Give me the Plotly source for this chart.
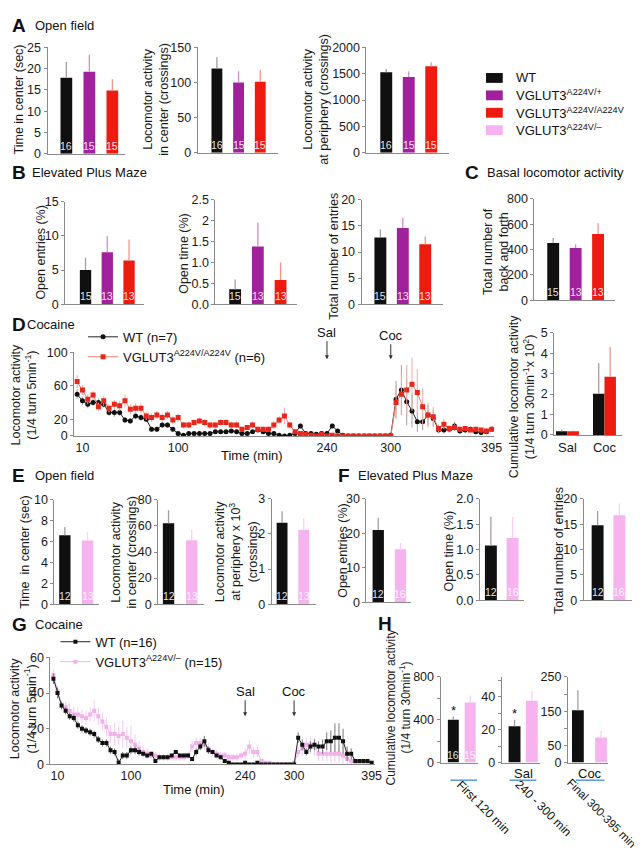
import plotly.graph_objects as go

W, H = 642, 852
FONT = "Liberation Sans, Arial, sans-serif"

BLACK = "#101010"
PURPLE = "#a1209b"
RED = "#ee1b10"
PINK = "#f6b3ef"
ERRC = {BLACK: "#a89ca4", PURPLE: "#d58bd0", RED: "#f3958c", PINK: "#f9cff5"}
AXIS = "#8a8a8a"

# ---------- data ----------
geno3 = ["WT", "A224V/+", "A224V/A224V"]
geno2 = ["WT", "A224V/-"]

# A open field
a_center_time = [17.9, 19.3, 14.9]
a_center_time_err = [3.7, 3.9, 2.6]
a_center_loco = [120, 100, 101]
a_center_loco_err = [16, 16, 17]
a_periph_loco = [1530, 1440, 1645]
a_periph_loco_err = [60, 110, 75]
a_n = ["16", "15", "15"]

# B elevated plus maze
b_open_entries = [5.0, 7.6, 6.4]
b_open_entries_err = [1.8, 2.4, 3.1]
b_open_time = [0.36, 1.38, 0.58]
b_open_time_err = [0.23, 0.57, 0.42]
b_total_entries = [12.8, 14.6, 11.5]
b_total_entries_err = [1.5, 2.0, 1.5]
b_n = ["15", "13", "13"]

# C basal locomotor activity
c_back_forth = [452, 412, 523]
c_back_forth_err = [40, 30, 85]
c_n = ["15", "13", "13"]

# D cocaine time course, 5-min bins
t_min = list(range(5, 400, 5))
d_wt = [50, 42, 38, 40, 40, 38, 28, 28, 28, 19,      # 5-50
        18, 24, 22, 20, 8, 8, 13, 13, 8, 3,          # 55-100
        1, 3, 3, 3, 3, 3, 5, 5, 5, 6,                # 105-150
        5, 3, 3, 5, 7, 5, 3, 3, 1, 0,                # 155-200
        1, 3, 12, 3, 3, 2, 3, 3, 12, 6,              # 205-250
        1, 0, 0, 0, 0, 0, 0, 0, 0, 1,                # 255-300
        44, 55, 41, 30, 17, 17, 25, 21, 7, 7,        # 305-350
        8, 12, 6, 7, 8, 5, 4, 5, 8]                  # 355-395
d_wt_err = [6, 5, 5, 4, 5, 4, 4, 5, 4, 4,
            3, 4, 4, 3, 3, 3, 3, 3, 2, 2,
            1, 2, 2, 2, 2, 2, 2, 2, 2, 2,
            2, 2, 2, 2, 2, 2, 2, 3, 1, 1,
            2, 2, 3, 2, 2, 2, 2, 2, 3, 2,
            1, 1, 1, 1, 1, 1, 1, 1, 1, 2,
            22, 30, 28, 20, 12, 10, 12, 10, 4, 4,
            4, 5, 3, 3, 3, 3, 2, 2, 3]
d_mut = [65, 55, 44, 49, 35, 42, 33, 38, 36, 42,
         32, 33, 33, 24, 22, 25, 22, 25, 19, 22,
         13, 13, 16, 18, 16, 13, 13, 16, 16, 13,
         13, 8, 10, 13, 8, 8, 8, 13, 19, 24,
         13, 5, 3, 2, 1, 0, 2, 0, 1, 0,
         0, 0, 0, 0, 0, 0, 0, 0, 0, 0,
         40, 50, 55, 62, 52, 35, 25, 23, 9, 14,
         9, 10, 8, 9, 7, 8, 7, 6, 8]
d_mut_err = [8, 6, 6, 5, 5, 6, 5, 5, 6, 8,
             6, 6, 6, 5, 5, 5, 5, 5, 5, 5,
             4, 4, 4, 4, 4, 4, 4, 4, 4, 4,
             4, 3, 3, 4, 3, 3, 3, 5, 5, 10,
             4, 2, 1, 1, 1, 1, 1, 1, 1, 1,
             1, 1, 1, 1, 1, 1, 1, 1, 1, 1,
             20, 25, 30, 32, 28, 22, 15, 12, 5, 6,
             4, 4, 3, 3, 3, 3, 3, 3, 3]
d_ticks = [10, 100, 240, 300, 395]

# D cumulative (x 10^2)
cum_cats = ["Sal", "Coc"]
cum_wt = [0.18, 2.02]
cum_wt_err = [0.08, 1.5]
cum_mut = [0.18, 2.85]
cum_mut_err = [0.04, 1.45]

# E open field (VGLUT3 A224V/-)
e_center_time = [6.6, 6.1]
e_center_time_err = [0.8, 0.8]
e_center_loco = [62, 49]
e_center_loco_err = [10, 8]
e_periph_loco = [2.32, 2.12]
e_periph_loco_err = [0.33, 0.33]
e_n = ["12", "13"]

# F elevated plus maze
f_open_entries = [21.0, 15.4]
f_open_entries_err = [3.5, 1.8]
f_open_time = [1.08, 1.23]
f_open_time_err = [0.57, 0.42]
f_total_entries = [14.8, 16.8]
f_total_entries_err = [2.8, 2.3]
f_n = ["12", "16"]

# G cocaine time course
g_wt = [48, 40, 33, 30, 27, 26, 22, 20, 19, 18,
        17, 14, 12, 12, 8, 7, 1, 5, 5, 8,
        8, 7, 6, 5, 6, 2, 4, 4, 4, 5,
        7, 5, 5, 5, 3, 7, 10, 13, 8, 7,
        5, 4, 2, 1, 0, 0, 0, 1, 0, 0,
        1, 0, 0, 0, 0, 0, 0, 0, 0, 0,
        15, 11, 7, 10, 11, 10, 10, 13, 13, 15,
        15, 13, 6, 6, 2, 2, 2, 2, 1]
g_wt_err = [3, 3, 2, 2, 2, 2, 2, 2, 2, 2,
            2, 2, 2, 2, 2, 2, 2, 2, 2, 2,
            2, 2, 1, 1, 1, 1, 1, 1, 1, 1,
            1, 1, 1, 1, 1, 2, 2, 3, 2, 1,
            1, 1, 1, 1, 1, 1, 1, 1, 1, 1,
            1, 1, 1, 1, 1, 1, 1, 1, 1, 1,
            3, 3, 2, 3, 3, 3, 4, 5, 6, 8,
            8, 7, 4, 3, 1, 1, 1, 1, 1]
g_mut = [50, 41, 33, 32, 30, 28, 28, 27, 26, 28,
         30, 27, 24, 21, 17, 17, 16, 17, 15, 13,
         11, 9, 7, 6, 5, 5, 4, 4, 4, 4,
         4, 4, 4, 5, 10, 12, 12, 11, 9, 7,
         6, 5, 5, 4, 4, 4, 5, 6, 10, 7,
         7, 2, 1, 1, 0, 0, 0, 0, 0, 1,
         7, 9, 11, 11, 10, 6, 6, 6, 6, 6,
         6, 5, 3, 2, 1, 1, 1, 1, 1]
g_mut_err = [3, 3, 3, 3, 4, 4, 4, 4, 4, 4,
             6, 5, 5, 5, 5, 6, 5, 8, 6, 9,
             6, 4, 3, 3, 2, 2, 2, 2, 2, 2,
             2, 2, 2, 2, 3, 3, 3, 3, 3, 2,
             2, 2, 2, 2, 2, 2, 2, 3, 4, 3,
             3, 1, 1, 1, 1, 1, 1, 1, 1, 1,
             3, 4, 4, 5, 5, 4, 4, 4, 5, 5,
             5, 5, 3, 2, 1, 1, 1, 1, 1]

# H cumulative activity per period
h_first = [400, 562]
h_first_err = [30, 65]
h_sal = [22, 37.5]
h_sal_err = [4, 6]
h_coc = [153, 73]
h_coc_err = [58, 20]
h_n = ["16", "15"]

# ---------- figure helpers ----------
fig = go.Figure()
annots = []
shapes = []
n_axes = [0]


def new_axes(x0, x1, ytop, ybot, xrange, yrange, xcat=True):
    n_axes[0] += 1
    n = n_axes[0]
    s = "" if n == 1 else str(n)
    xa = dict(domain=[x0 / W, x1 / W], range=xrange, anchor="y" + s,
              showline=True, linecolor=AXIS, linewidth=1, ticks="",
              showticklabels=False, showgrid=False, zeroline=False)
    if xcat:
        xa["type"] = "category"
    ya = dict(domain=[1 - ybot / H, 1 - ytop / H], range=yrange, anchor="x" + s,
              showline=True, linecolor=AXIS, linewidth=1, ticks="outside",
              ticklen=3, tickcolor=AXIS, showgrid=False, zeroline=False,
              tickfont=dict(size=12.5, color="#1a1a1a"))
    fig.update_layout({"xaxis" + s: xa, "yaxis" + s: ya})
    return "x" + s, "y" + s


def bar_panel(box, xrange, yrange, tickvals, values, errors, cats, colors,
              width, nums=None, ticktext=None, minor=None):
    xr, yr = new_axes(*box, xrange, yrange)
    ykey = "yaxis" + yr[1:]
    fig.layout[ykey].tickvals = tickvals
    if ticktext:
        fig.layout[ykey].ticktext = ticktext
    if minor:
        fig.layout[ykey].minor = dict(tickmode="array", tickvals=minor, ticks="outside",
                                      ticklen=3, tickcolor=AXIS)
    for i, (c, v, e, col) in enumerate(zip(cats, values, errors, colors)):
        fig.add_trace(go.Bar(
            x=[c], y=[v], width=width, xaxis=xr, yaxis=yr, showlegend=False,
            marker=dict(color=col, line_width=0),
            error_y=dict(type="data", symmetric=False, array=[e], arrayminus=[0],
                         color=ERRC[col], thickness=1.3, width=0)))
        if nums:
            annots.append(dict(x=c, y=0, xref=xr, yref=yr, text=nums[i],
                               showarrow=False, yanchor="bottom", xanchor="center",
                               font=dict(size=10.5, color="rgba(255,255,255,0.9)")))
    return xr, yr


def ytitle(text, xc, yc, size=12.5):
    annots.append(dict(x=xc / W, y=1 - yc / H, xref="paper", yref="paper",
                       text=text, textangle=-90, showarrow=False,
                       xanchor="center", yanchor="middle",
                       font=dict(size=size, color="#1a1a1a")))


def label(text, x, y, size=13, bold=False, anchor="left"):
    annots.append(dict(x=x / W, y=1 - y / H, xref="paper", yref="paper",
                       text=f"<b>{text}</b>" if bold else text, showarrow=False,
                       xanchor=anchor, yanchor="middle",
                       font=dict(size=size, color="#111")))


c3 = [BLACK, PURPLE, RED]
c2 = [BLACK, PINK]

# ---------- A ----------
label("A", 2, 11, 19, True)
label("Open field", 25, 11)
bar_panel((40, 118, 33, 141), [-0.82, 2.53], [0, 25], [0, 5, 10, 15, 20, 25],
          a_center_time, a_center_time_err, geno3, c3, 0.51, a_n)
ytitle("Time in center (sec)", 11, 86)
bar_panel((192, 273, 33, 140), [-0.89, 2.8], [0, 150], [0, 50, 100, 150],
          a_center_loco, a_center_loco_err, geno3, c3, 0.5, a_n)
ytitle("Locomotor activity<br>in center (crossings)", 149, 86)
bar_panel((363, 447, 33, 140), [-0.88, 2.81], [0, 2000], [0, 500, 1000, 1500, 2000],
          a_periph_loco, a_periph_loco_err, geno3, c3, 0.53, a_n)
ytitle("Locomotor activity<br>at periphery (crossings)", 311, 86)

# legend for bar colours
leg_names = ["WT", "VGLUT3<sup>A224V/+</sup>", "VGLUT3<sup>A224V/A224V</sup>",
             "VGLUT3<sup>A224V/–</sup>"]
for i, (nm, col) in enumerate(zip(leg_names, [BLACK, PURPLE, RED, PINK])):
    yc = 64 + i * 17.7
    shapes.append(dict(type="rect", xref="paper", yref="paper",
                       x0=484 / W, x1=501 / W, y0=1 - (yc + 5) / H, y1=1 - (yc - 5) / H,
                       fillcolor=col, line_width=0))
    label(nm, 512, yc, 13)

# ---------- B ----------
label("B", 2, 160, 19, True)
label("Elevated Plus Maze", 22, 160)
bar_panel((58, 138, 190, 294), [-0.93, 2.7], [0, 15], [0, 5, 10, 15],
          b_open_entries, b_open_entries_err, geno3, c3, 0.52, b_n)
ytitle("Open entries (%)", 33, 242)
bar_panel((210, 293, 188, 294), [-0.87, 2.74], [0, 2.5], [0, 0.5, 1, 1.5, 2, 2.5],
          b_open_time, b_open_time_err, geno3, c3, 0.52, b_n,
          ["0.0", "0.5", "1.0", "1.5", "2", "2.5"])
ytitle("Open time (%)", 178, 242)
bar_panel((358, 440, 188, 294), [-0.84, 2.77], [0, 20], [0, 5, 10, 15, 20],
          b_total_entries, b_total_entries_err, geno3, c3, 0.53, b_n)
ytitle("Total number of entries", 330, 245)

# ---------- C ----------
label("C", 461, 160, 19, True)
label("Basal locomotor activity", 483, 160)
bar_panel((533, 615, 187, 290), [-0.84, 2.77], [0, 800], [0, 200, 400, 600, 800],
          c_back_forth, c_back_forth_err, geno3, c3, 0.53, c_n)
ytitle("Total number of<br>back and forth", 494, 240)

# ---------- D ----------
label("D", 2, 315, 19, True)
label("Cocaine", 17, 315)
xr, yr = new_axes(67, 492, 343, 428, [2.2, 397], [0, 100], xcat=False)
fig.layout["xaxis" + xr[1:]].update(showticklabels=True, tickvals=d_ticks,
                                    tickfont=dict(size=12.5, color="#1a1a1a"))
fig.layout["yaxis" + yr[1:]].tickvals = [0, 20, 60, 100]
fig.add_trace(go.Scatter(
    x=t_min, y=d_wt, xaxis=xr, yaxis=yr, mode="lines+markers", name="WT (n=7)",
    legend="legend", line=dict(color="#222", width=1),
    marker=dict(symbol="circle", size=5, color=BLACK),
    error_y=dict(type="data", array=d_wt_err, color="#a0a0a0", thickness=1, width=0)))
fig.add_trace(go.Scatter(
    x=t_min, y=d_mut, xaxis=xr, yaxis=yr, mode="lines+markers",
    name="VGLUT3<sup>A224V/A224V</sup> (n=6)", legend="legend",
    line=dict(color="#f08070", width=1),
    marker=dict(symbol="square", size=5, color="#e8261c"),
    error_y=dict(type="data", array=d_mut_err, color="#f5aaa4", thickness=1, width=0)))
for txt, tx, ay in [("Sal", 240, -27), ("Coc", 300, -24)]:
    annots.append(dict(x=tx, y=1 - 350 / H, xref=xr, yref="paper", text=txt,
                       showarrow=True, arrowhead=2, arrowsize=0.8, arrowwidth=1,
                       arrowcolor="#333", ax=0, ay=ay, font=dict(size=13, color="#111")))
label("Time (min)", 247, 448, 13, anchor="center")
ytitle("Locomotor activity<br>(1/4 turn 5min<sup>-1</sup>)", 16, 386)

# D cumulative
xr, yr = new_axes(553, 622, 323, 427, [-0.36, 1.48], [0, 5])
fig.layout["xaxis" + xr[1:]].update(showticklabels=True,
                                    tickfont=dict(size=13, color="#1a1a1a"))
fig.layout["yaxis" + yr[1:]].tickvals = [0, 1, 2, 3, 4, 5]
for vals, errs, col, off in [(cum_wt, cum_wt_err, BLACK, -0.31), (cum_mut, cum_mut_err, RED, 0)]:
    fig.add_trace(go.Bar(
        x=cum_cats, y=vals, width=0.31, offset=off, xaxis=xr, yaxis=yr, showlegend=False,
        marker=dict(color=col, line_width=0),
        error_y=dict(type="data", symmetric=False, array=errs, arrayminus=[0, 0],
                     color=ERRC[col], thickness=1.3, width=0)))
ytitle("Cumulative locomotor activity<br>(1/4 turn 30min<sup>-1</sup>x 10<sup>2</sup>)", 520, 388)

# ---------- E ----------
label("E", 2, 468, 19, True)
label("Open field", 25, 468)
bar_panel((47, 92, 493, 599), [-0.46, 1.5], [0, 10], [0, 2, 4, 6, 8, 10],
          e_center_time, e_center_time_err, geno2, c2, 0.5, e_n)
ytitle("Time  in center (sec)", 17, 546)
bar_panel((152, 198, 493, 599), [-0.45, 1.51], [0, 80], [0, 20, 40, 60, 80],
          e_center_loco, e_center_loco_err, geno2, c2, 0.49, e_n)
ytitle("Locomotor activity<br>in center (crossings)", 117, 546)
bar_panel((267, 312, 492, 599), [-0.48, 1.57], [0, 3], [0, 1, 2, 3],
          e_periph_loco, e_periph_loco_err, geno2, c2, 0.5, e_n)
ytitle("Locomotor activity<br>at periphery x 10<sup>3</sup><br>(crossings)", 231, 546)

# ---------- F ----------
label("F", 332, 468, 19, True)
label("Elevated Plus Maze", 352, 468)
bar_panel((363, 408, 492, 597), [-0.53, 1.47], [0, 30], [0, 10, 20, 30],
          f_open_entries, f_open_entries_err, geno2, c2, 0.51, f_n)
ytitle("Open entries (%)", 339, 545)
bar_panel((478, 523, 492, 595), [-0.5, 1.55], [0, 2], [0, 0.5, 1, 1.5, 2],
          f_open_time, f_open_time_err, geno2, c2, 0.55, f_n,
          ["0.0", "0.5", "1.0", "1.5", "2.0"])
ytitle("Open time (%)", 447, 545)
bar_panel((583, 632, 492, 595), [-0.64, 1.59], [0, 20], [0, 5, 10, 15, 20],
          f_total_entries, f_total_entries_err, geno2, c2, 0.55, f_n)
ytitle("Total number of entries", 558, 545)

# ---------- G ----------
label("G", 2, 620, 19, True)
label("Cocaine", 25, 620)
xr, yr = new_axes(43, 372, 653, 762, [1.4, 399.6], [0, 60], xcat=False)
fig.layout["xaxis" + xr[1:]].update(showticklabels=True, tickvals=d_ticks,
                                    tickfont=dict(size=12.5, color="#1a1a1a"))
fig.layout["yaxis" + yr[1:]].tickvals = [0, 20, 40, 60]
fig.add_trace(go.Scatter(
    x=t_min, y=g_mut, xaxis=xr, yaxis=yr, mode="lines+markers",
    name="VGLUT3<sup>A224V/–</sup> (n=15)", legend="legend2",
    line=dict(color="#f2b6ec", width=1),
    marker=dict(symbol="square", size=4, color="#f2b0ec"),
    error_y=dict(type="data", array=g_mut_err, color="#f6c8f2", thickness=1, width=0)))
fig.add_trace(go.Scatter(
    x=t_min, y=g_wt, xaxis=xr, yaxis=yr, mode="lines+markers", name="WT (n=16)",
    legend="legend2", line=dict(color="#222", width=1),
    marker=dict(symbol="square", size=4, color=BLACK),
    error_y=dict(type="data", array=g_wt_err, color="#777", thickness=1, width=0)))
for txt, tx in [("Sal", 240), ("Coc", 300)]:
    annots.append(dict(x=tx, y=1 - 713 / H, xref=xr, yref="paper", text=txt,
                       showarrow=True, arrowhead=2, arrowsize=0.8, arrowwidth=1,
                       arrowcolor="#333", ax=0, ay=-25, font=dict(size=13, color="#111")))
label("Time (min)", 188, 787, 13, anchor="center")
ytitle("Locomotor activity<br>(1/4 turn 5min<sup>-1</sup>)", 16, 705)

# ---------- H ----------
label("H", 373, 619, 19, True)
xr1, yr1 = bar_panel((438, 476, 673, 760), [-0.76, 1.47], [0, 800], [0, 400, 800],
                     h_first, h_first_err, geno2, c2, 0.65, h_n, minor=[200, 600])
xr2, yr2 = bar_panel((500, 539, 673, 760), [-0.74, 1.49], [0, 52], [0, 20, 40],
                     h_sal, h_sal_err, geno2, c2, 0.69, None, minor=[10, 30, 50])
xr3, yr3 = bar_panel((567, 608, 673, 760), [-0.43, 1.32], [0, 250], [0, 50, 150, 250],
                     h_coc, h_coc_err, geno2, c2, 0.51, None, minor=[100, 200])
for xr, yr, v, e in [(xr1, yr1, h_first[0], h_first_err[0]), (xr2, yr2, h_sal[0], h_sal_err[0])]:
    annots.append(dict(x="WT", y=v + e, xref=xr, yref=yr, text="*", showarrow=False,
                       xanchor="center", yanchor="bottom", yshift=-3,
                       font=dict(size=13, color="#111")))
ytitle("Cumulative locomotor activity<br>(1/4 turn 30min<sup>-1</sup>)", 396, 704, 12)
label("Sal", 522, 771, 13, anchor="center")
label("Coc", 589, 771, 13, anchor="center")
for x0, x1 in [(448, 475), (508, 535), (575, 604)]:
    shapes.append(dict(type="line", xref="paper", yref="paper", x0=x0 / W, x1=x1 / W,
                       y0=1 - 778 / H, y1=1 - 778 / H, line=dict(color="#5b9bd5", width=1.5)))
for txt, xc, yc, fs in [("First 120 min", 481, 805, 12), ("240 - 300 min", 542, 806, 12),
                        ("Final 300-395 min", 601, 811, 11.5)]:
    annots.append(dict(x=xc / W, y=1 - yc / H, xref="paper", yref="paper", text=txt,
                       textangle=45, showarrow=False, xanchor="center", yanchor="middle",
                       font=dict(size=fs, color="#111")))

fig.update_layout(
    width=W, height=H, margin=dict(l=0, r=0, t=0, b=0),
    paper_bgcolor="white", plot_bgcolor="rgba(0,0,0,0)",
    font=dict(family=FONT, color="#111"), barmode="overlay",
    annotations=annots, shapes=shapes,
    legend=dict(x=76 / W, y=1 - 312 / H, xanchor="left", yanchor="top",
                bgcolor="rgba(0,0,0,0)", font=dict(size=13), itemwidth=30,
                tracegroupgap=0),
    legend2=dict(x=48 / W, y=1 - 622 / H, xanchor="left", yanchor="top",
                 bgcolor="rgba(0,0,0,0)", font=dict(size=13), itemwidth=30,
                 traceorder="reversed"),
)

fig.write_html("out.html")
